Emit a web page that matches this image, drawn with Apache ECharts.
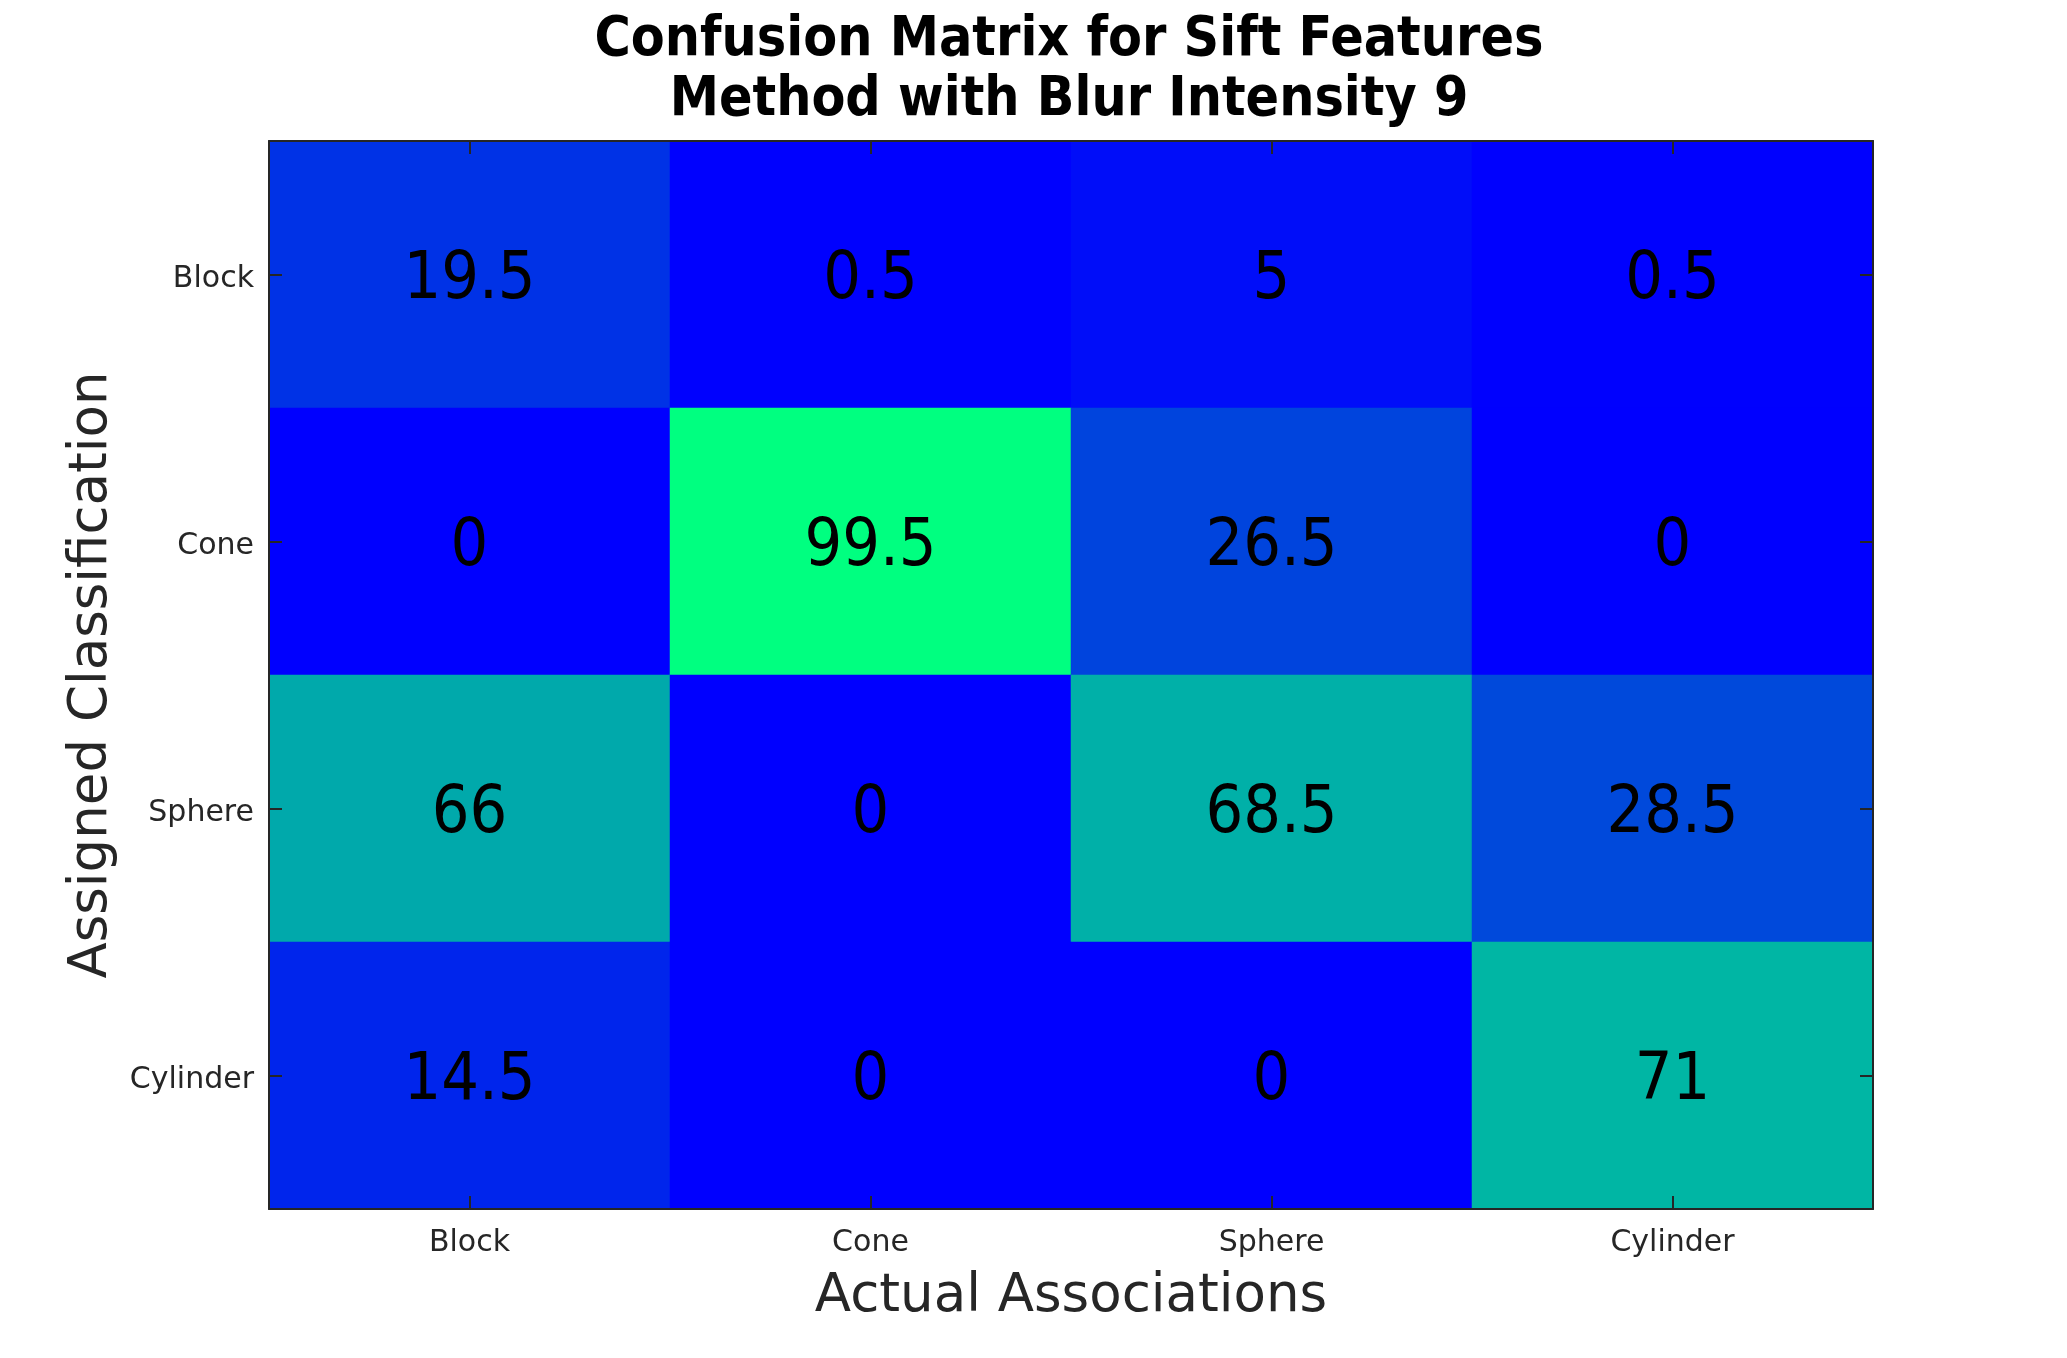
<!DOCTYPE html>
<html>
<head>
<meta charset="utf-8">
<style>
  html, body { margin: 0; padding: 0; background: #ffffff; }
  #chart { width: 2067px; height: 1358px; }
</style>
<script src="https://cdn.jsdelivr.net/npm/echarts@6/dist/echarts.min.js"></script>
</head>
<body>
<div id="chart"></div>
<script>
// Categories
const actualClasses = ['Block', 'Cone', 'Sphere', 'Cylinder'];     // x axis (columns)
const assignedClasses = ['Block', 'Cone', 'Sphere', 'Cylinder'];   // y axis (rows, top to bottom)

// Values per assigned-classification row, in order of actualClasses
const rowBlock = [19.5, 0.5, 5, 0.5];
const rowCone = [0, 99.5, 26.5, 0];
const rowSphere = [66, 0, 68.5, 28.5];
const rowCylinder = [14.5, 0, 0, 71];

const rows = [rowBlock, rowCone, rowSphere, rowCylinder];
const cells = [];
rows.forEach(function (row, yi) {
  row.forEach(function (v, xi) { cells.push([xi, yi, v]); });
});

const axisColor = '#262626';
const tickFont = 'DejaVu Sans';
const condFont = '"DejaVu Sans Condensed", "DejaVu Sans", sans-serif';

function tickStyle() {
  return { show: true, inside: true, alignWithLabel: true, length: 13, lineStyle: { color: axisColor, width: 2 } };
}
function lineStyle() {
  return { show: true, lineStyle: { color: axisColor, width: 2 } };
}

const chart = echarts.init(document.getElementById('chart'), null, { renderer: 'canvas' });
chart.setOption({
  backgroundColor: '#ffffff',
  animation: false,
  title: {
    text: 'Confusion Matrix for Sift Features\nMethod with Blur Intensity 9',
    left: 1064,
    textAlign: 'center',
    top: 6,
    textStyle: {
      fontFamily: condFont,
      fontWeight: 'bold',
      fontSize: 55,
      lineHeight: 60,
      color: '#000000'
    }
  },
  grid: { left: 269, right: 194, top: 141, bottom: 149, containLabel: false },
  visualMap: {
    show: false,
    type: 'continuous',
    min: 0,
    max: 99.5,
    dimension: 2,
    seriesIndex: 0,
    inRange: { color: ['#0000ff', '#00ff80'] }
  },
  xAxis: [
    {
      type: 'category',
      data: actualClasses,
      position: 'bottom',
      z: 10,
      name: 'Actual Associations',
      nameLocation: 'middle',
      nameGap: 62,
      nameTextStyle: { fontFamily: tickFont, fontSize: 53, color: axisColor },
      axisLine: lineStyle(),
      axisTick: tickStyle(),
      axisLabel: { fontFamily: tickFont, fontSize: 30, color: axisColor, margin: 19 },
      splitLine: { show: false }
    },
    {
      type: 'category',
      data: actualClasses,
      position: 'top',
      z: 10,
      axisLine: lineStyle(),
      axisTick: tickStyle(),
      axisLabel: { show: false },
      splitLine: { show: false }
    }
  ],
  yAxis: [
    {
      type: 'category',
      data: assignedClasses,
      inverse: true,
      position: 'left',
      z: 10,
      name: 'Assigned Classification',
      nameLocation: 'middle',
      nameGap: 143,
      nameTextStyle: { fontFamily: tickFont, fontSize: 53, color: axisColor },
      axisLine: lineStyle(),
      axisTick: tickStyle(),
      axisLabel: {
        color: axisColor,
        margin: 15,
        formatter: function (v) { return '{t|' + v + '}'; },
        rich: { t: { fontFamily: tickFont, fontSize: 30, color: axisColor, padding: [10, 0, 0, 0] } }
      },
      splitLine: { show: false }
    },
    {
      type: 'category',
      data: assignedClasses,
      inverse: true,
      position: 'right',
      z: 10,
      axisLine: lineStyle(),
      axisTick: tickStyle(),
      axisLabel: { show: false },
      splitLine: { show: false }
    }
  ],
  series: [
    {
      type: 'heatmap',
      xAxisIndex: 0,
      yAxisIndex: 0,
      data: cells,
      z: 1,
      label: {
        show: true,
        formatter: function (p) { return String(p.value[2]); },
        fontFamily: condFont,
        fontSize: 66,
        color: '#000000',
        offset: [0, 6]
      },
      itemStyle: { borderWidth: 0 },
      emphasis: { disabled: true }
    }
  ]
});
</script>
</body>
</html>
